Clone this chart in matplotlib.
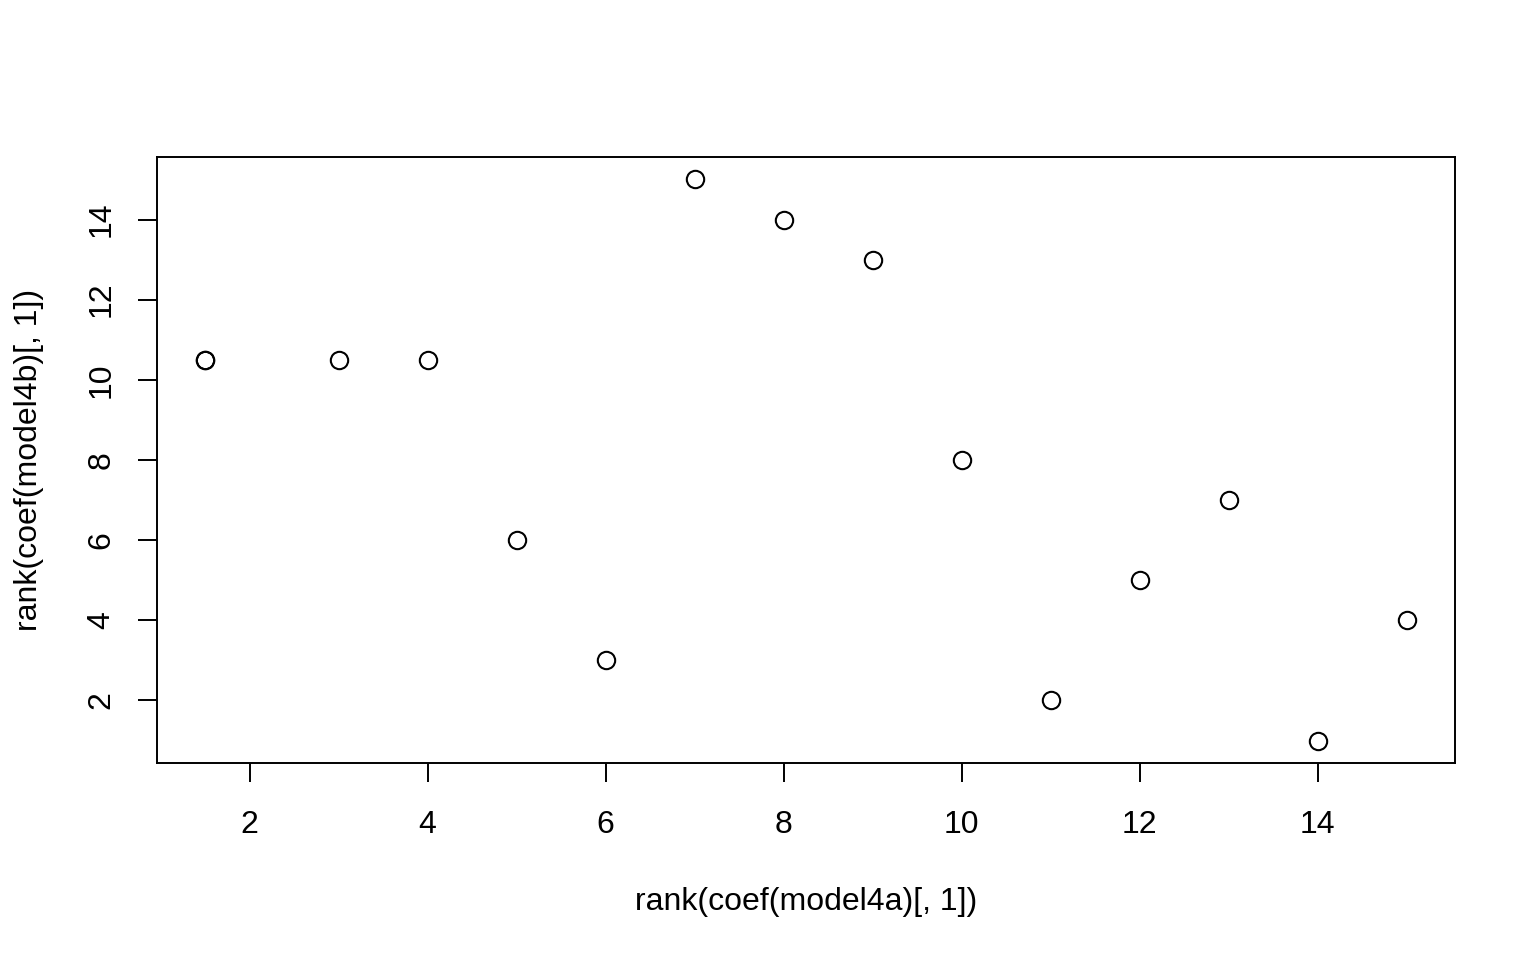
import numpy as np
import matplotlib.pyplot as plt

# ranks of the coefficients in the two models
rank_a = [1.5, 1.5, 3, 4, 5, 6, 7, 8, 9, 10, 11, 12, 13, 14, 15]
rank_b = [10.5, 10.5, 10.5, 10.5, 6, 3, 15, 14, 13, 8, 2, 5, 7, 1, 4]
x_ticks = [2, 4, 6, 8, 10, 12, 14]
y_ticks = [2, 4, 6, 8, 10, 12, 14]

plt.rcParams['font.family'] = ['Liberation Sans', 'DejaVu Sans']

fig = plt.figure(figsize=(15.36, 9.6), dpi=100)
ax = fig.add_axes([157 / 1536, 1 - 763 / 960, 1298 / 1536, 606 / 960])

ax.plot(rank_a, rank_b, 'o', mfc='none', mec='black', ms=12.5, mew=1.5)

# R style 4% padding
def pad(lo, hi):
    d = (hi - lo) * 0.04
    return lo - d, hi + d

ax.set_xlim(*pad(min(rank_a), max(rank_a)))
ax.set_ylim(*pad(min(rank_b), max(rank_b)))

ax.set_xticks(x_ticks)
ax.set_yticks(y_ticks)
ax.tick_params(axis='both', length=14, width=1.4, labelsize=23, color='black')
ax.tick_params(axis='x', pad=20)
ax.tick_params(axis='y', pad=15, labelrotation=90)
for lbl in ax.get_yticklabels():
    lbl.set_va('center')
for s in ax.spines.values():
    s.set_linewidth(1.4)

ax.set_xlabel("rank(coef(model4a)[, 1])", fontsize=23, labelpad=34)
ax.set_ylabel("rank(coef(model4b)[, 1])", fontsize=23, labelpad=31)

fig.savefig("out.png", dpi=100)
